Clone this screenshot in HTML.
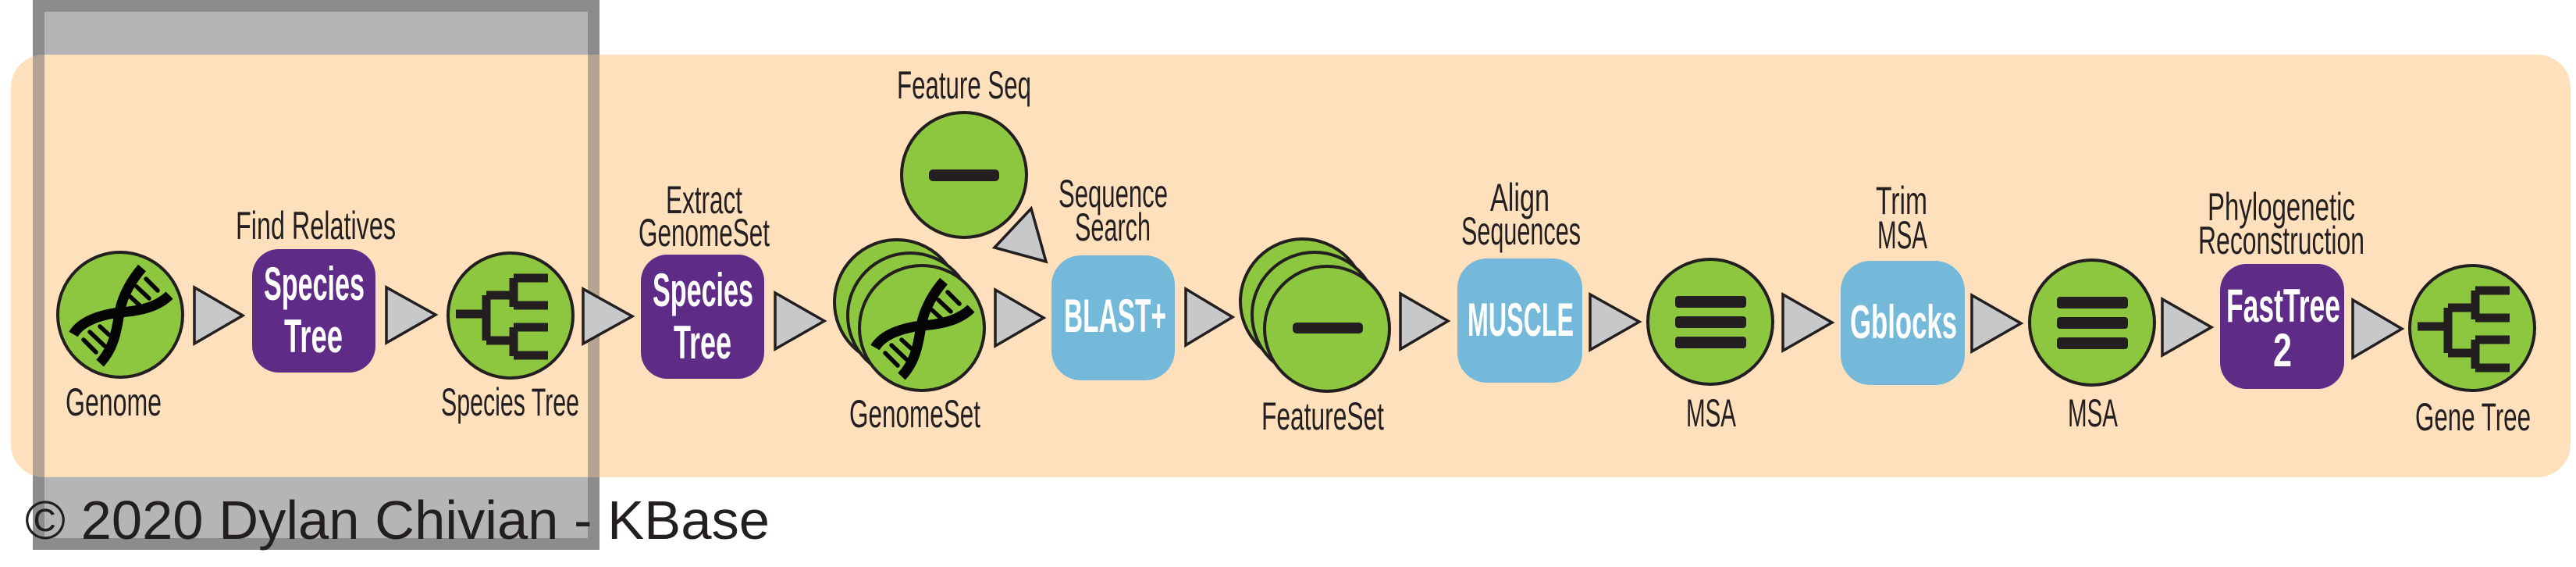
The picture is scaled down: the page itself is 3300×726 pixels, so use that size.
<!DOCTYPE html>
<html><head><meta charset="utf-8"><style>
html,body{margin:0;padding:0;background:#fff;width:3300px;height:726px;overflow:hidden}
svg{display:block}
text{font-family:"Liberation Sans",sans-serif}
.lb{font-size:50px;fill:#231F20}
.bx{font-size:60px;fill:#fff;font-weight:bold}
</style></head><body>
<svg width="3300" height="726" viewBox="0 0 3300 726" xmlns="http://www.w3.org/2000/svg">
<defs>
<g id="dna">
  <path d="M28,-60 C15,-45 3,-25 -1,-3 C-5,25 -10,45 -26,62" fill="none" stroke="#050505" stroke-width="13"/>
  <path d="M63,-25 C50,-12 30,-5 -1,-3 C-25,0 -50,8 -60,25" fill="none" stroke="#050505" stroke-width="13"/>
  <g stroke="#050505" stroke-width="5.5" stroke-linecap="round">
    <line x1="13" y1="-23" x2="26" y2="-11"/><line x1="21" y1="-36" x2="37" y2="-21"/><line x1="33" y1="-46" x2="48" y2="-31"/>
    <line x1="-47" y1="32" x2="-31" y2="48"/><line x1="-39" y1="22" x2="-20" y2="40"/><line x1="-26" y1="15" x2="-14" y2="26"/>
  </g>
</g>
<g id="tree" fill="none" stroke="#231F20" stroke-width="11">
  <path d="M-70,-2 H-31 M-31,-26 V32 M-31,-26 H4 M-31,32 H4 M4,-48 V-11 M4,15 V52 M4,-48 H48 M4,-13 H48 M4,15 H48 M4,51 H48"/>
</g>
<g id="msa" fill="#231F20">
  <rect x="-45" y="-33" width="91" height="15" rx="4"/>
  <rect x="-45" y="-7" width="91" height="15" rx="4"/>
  <rect x="-45" y="19" width="91" height="15" rx="4"/>
</g>
</defs>
<rect x="42" y="0" width="726" height="704" fill="#B5B5B7"/>
<rect x="14" y="70" width="3279" height="541" rx="42" fill="#FEE0BD"/>
<rect x="49.5" y="7.5" width="711" height="689" fill="none" stroke="rgba(90,90,92,0.45)" stroke-width="15"/>

<g fill="#C6C8CA" stroke="#231F20" stroke-width="3.5" stroke-linejoin="miter">
<polygon points="249,368 249,440 311,404"/>
<polygon points="495,368 495,439 558,403"/>
<polygon points="747,370 747,440 810,405"/>
<polygon points="993,375 993,447 1056,411"/>
<polygon points="1275,371 1275,443 1337,407"/>
<polygon points="1519,370 1519,442 1579,406"/>
<polygon points="1794,376 1794,447 1855,411"/>
<polygon points="2037,377 2037,448 2100,412"/>
<polygon points="2284,377 2284,449 2347,413"/>
<polygon points="2526,378 2526,450 2589,414"/>
<polygon points="2770,383 2770,455 2833,419"/>
<polygon points="3014,384 3014,458 3077,421"/>
<polygon points="1321,267 1274,317 1340,335"/>
</g>

<g fill="#8DC63F" stroke="#231F20" stroke-width="4">
<circle cx="154" cy="403" r="80"/>
<circle cx="654" cy="404" r="80"/>
<circle cx="1235" cy="224" r="80"/>
<circle cx="1149" cy="387" r="80"/>
<circle cx="1166" cy="404" r="80"/>
<circle cx="1181" cy="420" r="80"/>
<circle cx="1669" cy="386" r="80"/>
<circle cx="1684" cy="403" r="80"/>
<circle cx="1700" cy="421" r="80"/>
<circle cx="2191" cy="412" r="80"/>
<circle cx="2680" cy="413" r="80"/>
<circle cx="3167" cy="420" r="80"/>
</g>
<use href="#dna" x="154" y="403"/>
<use href="#dna" x="1181" y="420"/>
<use href="#tree" x="654" y="404"/>
<use href="#tree" x="3167" y="420"/>
<use href="#msa" x="2191" y="412"/>
<use href="#msa" x="2680" y="413"/>
<rect x="1190" y="217" width="90" height="15" rx="5" fill="#231F20"/>
<rect x="1656" y="413" width="90" height="14" rx="5" fill="#231F20"/>

<rect x="323" y="319" width="158" height="158" rx="34" fill="#5E2C87"/>
<rect x="821" y="326" width="158" height="159" rx="34" fill="#5E2C87"/>
<rect x="1347" y="327" width="158" height="160" rx="38" fill="#74B9D9"/>
<rect x="1867" y="331" width="160" height="159" rx="38" fill="#74B9D9"/>
<rect x="2358" y="334" width="159" height="159" rx="38" fill="#74B9D9"/>
<rect x="2844" y="338" width="159" height="160" rx="34" fill="#5E2C87"/>

<text class="bx" x="338" y="384" textLength="129" lengthAdjust="spacingAndGlyphs">Species</text>
<text class="bx" x="364" y="451" textLength="75" lengthAdjust="spacingAndGlyphs">Tree</text>
<text class="bx" x="836" y="392" textLength="129" lengthAdjust="spacingAndGlyphs">Species</text>
<text class="bx" x="863" y="459" textLength="74" lengthAdjust="spacingAndGlyphs">Tree</text>
<text class="bx" x="1363" y="425" textLength="131" lengthAdjust="spacingAndGlyphs">BLAST+</text>
<text class="bx" x="1880" y="430" textLength="136" lengthAdjust="spacingAndGlyphs">MUSCLE</text>
<text class="bx" x="2370" y="433" textLength="137" lengthAdjust="spacingAndGlyphs">Gblocks</text>
<text class="bx" x="2852" y="412" textLength="146" lengthAdjust="spacingAndGlyphs">FastTree</text>
<text class="bx" x="2912" y="469" textLength="24" lengthAdjust="spacingAndGlyphs">2</text>

<text class="lb" x="84" y="532" textLength="123" lengthAdjust="spacingAndGlyphs">Genome</text>
<text class="lb" x="565" y="532" textLength="177" lengthAdjust="spacingAndGlyphs">Species Tree</text>
<text class="lb" x="1088" y="547" textLength="168" lengthAdjust="spacingAndGlyphs">GenomeSet</text>
<text class="lb" x="1616" y="550" textLength="157" lengthAdjust="spacingAndGlyphs">FeatureSet</text>
<text class="lb" x="2160" y="546" textLength="64" lengthAdjust="spacingAndGlyphs">MSA</text>
<text class="lb" x="2649" y="546" textLength="64" lengthAdjust="spacingAndGlyphs">MSA</text>
<text class="lb" x="3094" y="551" textLength="148" lengthAdjust="spacingAndGlyphs">Gene Tree</text>

<text class="lb" x="302" y="306" textLength="205" lengthAdjust="spacingAndGlyphs">Find Relatives</text>
<text class="lb" x="853" y="273" textLength="98" lengthAdjust="spacingAndGlyphs">Extract</text>
<text class="lb" x="818" y="315" textLength="168" lengthAdjust="spacingAndGlyphs">GenomeSet</text>
<text class="lb" x="1149" y="126" textLength="172" lengthAdjust="spacingAndGlyphs">Feature Seq</text>
<text class="lb" x="1356" y="265" textLength="140" lengthAdjust="spacingAndGlyphs">Sequence</text>
<text class="lb" x="1377" y="308" textLength="97" lengthAdjust="spacingAndGlyphs">Search</text>
<text class="lb" x="1909" y="270" textLength="76" lengthAdjust="spacingAndGlyphs">Align</text>
<text class="lb" x="1872" y="313" textLength="153" lengthAdjust="spacingAndGlyphs">Sequences</text>
<text class="lb" x="2403" y="274" textLength="66" lengthAdjust="spacingAndGlyphs">Trim</text>
<text class="lb" x="2405" y="318" textLength="64" lengthAdjust="spacingAndGlyphs">MSA</text>
<text class="lb" x="2828" y="282" textLength="189" lengthAdjust="spacingAndGlyphs">Phylogenetic</text>
<text class="lb" x="2816" y="325" textLength="213" lengthAdjust="spacingAndGlyphs">Reconstruction</text>

<text x="32" y="690" font-size="70" fill="#231F20" textLength="954" lengthAdjust="spacingAndGlyphs">© 2020 Dylan Chivian - KBase</text>
</svg>
</body></html>
